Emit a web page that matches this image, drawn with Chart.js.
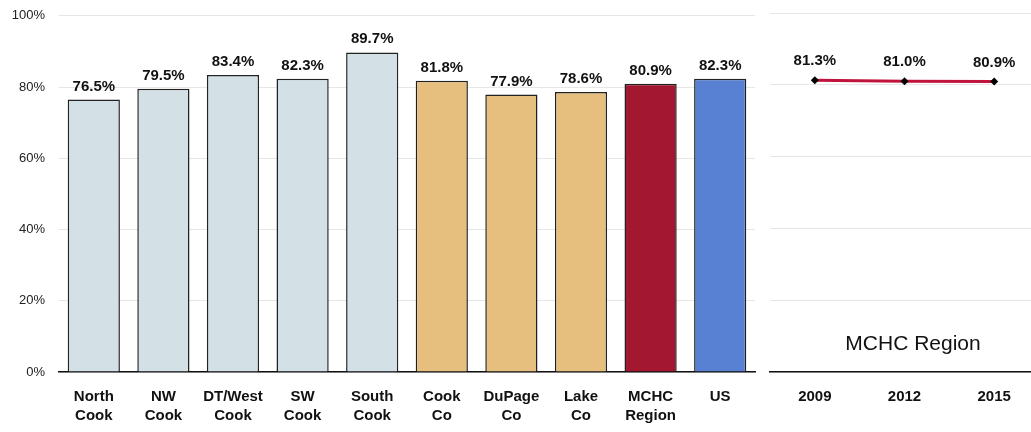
<!DOCTYPE html>
<html><head><meta charset="utf-8">
<script src="https://cdn.jsdelivr.net/npm/chart.js@4"></script>
<style>
html,body{margin:0;padding:0;background:#fff;overflow:hidden;width:1031px;height:432px;}
#c1{position:absolute;left:0;top:-6px;}
#c2{position:absolute;left:760px;top:0;}
#lbl{position:absolute;left:800px;width:226px;top:331px;text-align:center;font:21px "Liberation Sans",Arial,sans-serif;color:#111;}
</style></head><body>
<canvas id="c1" width="760" height="438"></canvas>
<canvas id="c2" width="283" height="432"></canvas>
<div id="lbl">MCHC Region</div>
<script>
const categories = [['North','Cook'],['NW','Cook'],['DT/West','Cook'],['SW','Cook'],['South','Cook'],['Cook','Co'],['DuPage','Co'],['Lake','Co'],['MCHC','Region'],'US'];
const rates = [76.5,79.5,83.4,82.3,89.7,81.8,77.9,78.6,80.9,82.3];
const years = ['2009','2012','2015'];
const regionTrend = [81.3,81.0,80.9];
const yTicks = [0,20,40,60,80,100];

const barColors = ['#D3E0E6','#D3E0E6','#D3E0E6','#D3E0E6','#D3E0E6','#E6BE7E','#E6BE7E','#E6BE7E','#A31830','#5881D4'];
const FONT = '"Liberation Sans", Arial, sans-serif';
Chart.defaults.font.family = FONT;
Chart.defaults.animation = false;

function labelPlugin(offset){
  return {
    id:'vlabels',
    afterDatasetsDraw(chart){
      const ctx = chart.ctx;
      ctx.save();
      ctx.font = 'bold 15px ' + FONT;
      ctx.fillStyle = '#111';
      ctx.textAlign = 'center';
      ctx.textBaseline = 'alphabetic';
      chart.data.datasets.forEach((ds,i)=>{
        chart.getDatasetMeta(i).data.forEach((el,j)=>{
          ctx.fillText(ds.data[j].toFixed(1)+'%', el.x, el.y - offset);
        });
      });
      ctx.restore();
    }
  };
}

const gridColor = '#E6E6E6';

new Chart(document.getElementById('c1'),{
  type:'bar',
  data:{labels:categories,datasets:[{data:rates,backgroundColor:barColors,borderColor:'#222',borderWidth:1.5,categoryPercentage:1,barPercentage:0.75}]},
  options:{
    responsive:false,
    layout:{padding:{top:2,right:5,left:0,bottom:0}},
    plugins:{legend:{display:false},tooltip:{enabled:false}},
    scales:{
      x:{
        grid:{display:false,drawTicks:false},
        border:{color:'#111',width:1.5},
        ticks:{color:'#111',font:{size:15,weight:'bold',lineHeight:1.3},padding:15,maxRotation:0,autoSkip:false},
        afterFit:s=>{s.height=60;}
      },
      y:{
        min:0,max:100,
        afterBuildTicks:s=>{s.ticks=yTicks.map(v=>({value:v}));},
        grid:{color:gridColor,drawTicks:false},
        border:{display:false},
        ticks:{color:'#222',font:{size:13},padding:14,callback:v=>v+'%'},
        afterFit:s=>{s.width=59;}
      }
    }
  },
  plugins:[labelPlugin(9)]
});

new Chart(document.getElementById('c2'),{
  type:'line',
  data:{labels:years,datasets:[{data:regionTrend,borderColor:'#C0143C',borderWidth:3,pointStyle:'rectRot',pointRadius:4,pointBackgroundColor:'#000',pointBorderColor:'#000',pointBorderWidth:0,tension:0}]},
  options:{
    responsive:false,
    layout:{padding:{top:13,right:0,left:10,bottom:0}},
    plugins:{legend:{display:false},tooltip:{enabled:false}},
    scales:{
      x:{
        offset:true,
        grid:{display:false,drawTicks:false},
        border:{color:'#111',width:1.5},
        ticks:{color:'#111',font:{size:15,weight:'bold',lineHeight:1.3},padding:15,maxRotation:0},
        afterFit:s=>{s.height=60;}
      },
      y:{
        min:0,max:100,
        afterBuildTicks:s=>{s.ticks=yTicks.map(v=>({value:v}));},
        grid:{color:gridColor,drawTicks:false},
        border:{display:false},
        ticks:{display:false},
        afterFit:s=>{s.width=0;}
      }
    }
  },
  plugins:[labelPlugin(15)]
});
</script>
</body></html>
